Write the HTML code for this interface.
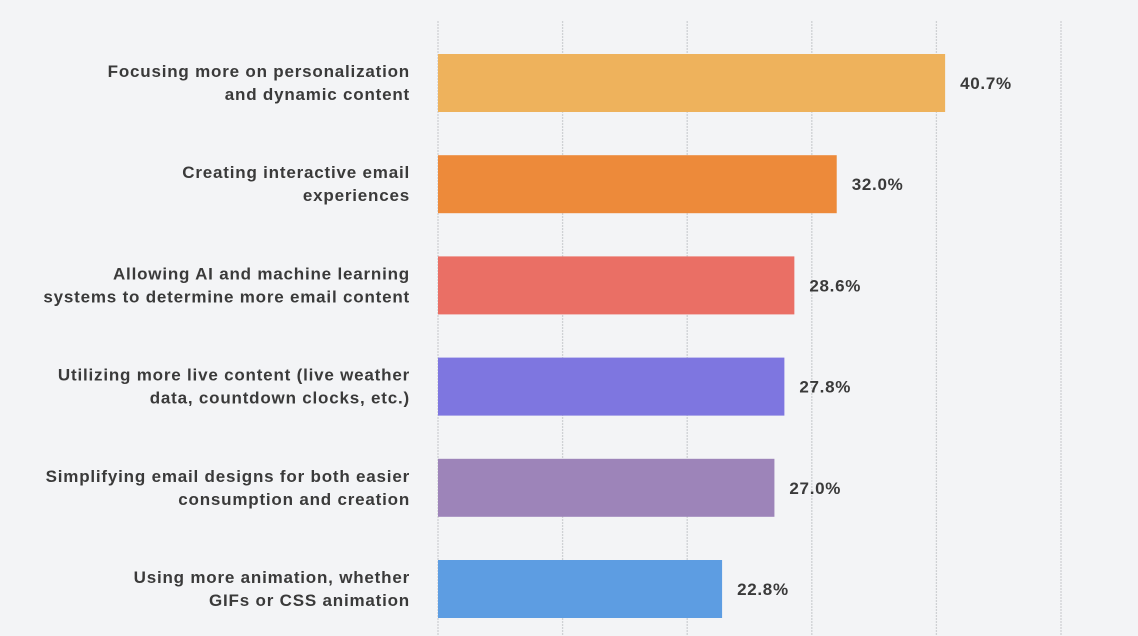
<!DOCTYPE html>
<html><head><meta charset="utf-8"><style>
html,body{margin:0;padding:0;background:#f3f4f6;}
svg{display:block;font-family:"Liberation Sans",sans-serif;}
</style></head><body>
<svg id="chart" width="1138" height="636">
<rect width="1138" height="636" fill="#f3f4f6"/>
<g id="grid"></g><g id="bars"></g>
</svg>
<script>
const categories=[["Focusing more on personalization","and dynamic content"],["Creating interactive email","experiences"],["Allowing AI and machine learning","systems to determine more email content"],["Utilizing more live content (live weather","data, countdown clocks, etc.)"],["Simplifying email designs for both easier","consumption and creation"],["Using more animation, whether","GIFs or CSS animation"]];
const values=[40.7,32.0,28.6,27.8,27.0,22.8];
const valueLabels=["40.7%","32.0%","28.6%","27.8%","27.0%","22.8%"];
const colors=["#eeb25c","#ed8a3a","#ea6f65","#7e76e0","#9d84b9","#5d9de2"];
const gridTicks=[0,10,20,30,40,50];
const NS="http://www.w3.org/2000/svg";
const x=v=>438+v*12.46;
const y=i=>54+i*101.2;
const bh=58;
function mk(t,a,p){const e=document.createElementNS(NS,t);for(const k in a)e.setAttribute(k,a[k]);p.appendChild(e);return e;}
const grid=document.getElementById('grid'),bars=document.getElementById('bars');
gridTicks.forEach(t=>{
  const l=mk('line',{x1:x(t),x2:x(t),y1:21,y2:636,stroke:'#cfd1d4','stroke-width':1.3,'stroke-dasharray':'2,1'},grid);
  
  
});
values.forEach((v,i)=>{
  const r=mk('rect',{x:x(0),y:y(i),width:x(v)-x(0),height:bh,fill:colors[i]},bars);
  
  
  const vl=mk('text',{x:x(v)+15,y:y(i)+bh/2+6,'font-size':17,'font-weight':'bold',fill:'#3a3a3a','letter-spacing':0.7},bars);
  vl.textContent=valueLabels[i];
  
  
  const cl=mk('text',{x:410,y:y(i)+bh/2-6,'font-size':17,'font-weight':'bold',fill:'#3a3a3a','text-anchor':'end','letter-spacing':0.8},bars);
  
  
  categories[i].forEach((s,j)=>{const ts=mk('tspan',{x:410,dy:j?23:0},cl);ts.textContent=s;});
});
</script>
</body></html>
